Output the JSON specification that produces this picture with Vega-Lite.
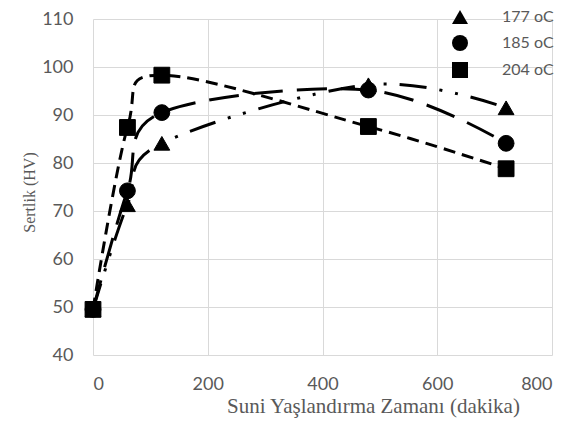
{
  "$schema": "https://vega.github.io/schema/vega-lite/v6.json",
  "width": 459,
  "height": 336,
  "autosize": "none",
  "padding": {"left": 93, "top": 19, "right": 33, "bottom": 66},
  "background": "white",
  "data": {
    "values": [
      {"t": 0, "hv": 49.5, "series": "177 oC"},
      {"t": 60, "hv": 71.3, "series": "177 oC"},
      {"t": 120, "hv": 84.1, "series": "177 oC"},
      {"t": 480, "hv": 96.3, "series": "177 oC"},
      {"t": 720, "hv": 91.5, "series": "177 oC"},
      {"t": 0, "hv": 49.5, "series": "185 oC"},
      {"t": 60, "hv": 74.2, "series": "185 oC"},
      {"t": 120, "hv": 90.5, "series": "185 oC"},
      {"t": 480, "hv": 95.2, "series": "185 oC"},
      {"t": 720, "hv": 84.1, "series": "185 oC"},
      {"t": 0, "hv": 49.5, "series": "204 oC"},
      {"t": 60, "hv": 87.4, "series": "204 oC"},
      {"t": 120, "hv": 98.3, "series": "204 oC"},
      {"t": 480, "hv": 87.6, "series": "204 oC"},
      {"t": 720, "hv": 78.8, "series": "204 oC"}
    ]
  },
  "config": {
    "view": {"stroke": null},
    "axis": {
      "grid": true,
      "gridColor": "#d9d9d9",
      "gridWidth": 1,
      "domain": false,
      "ticks": false,
      "labelFont": "Lato",
      "labelFontSize": 18,
      "labelColor": "#595959",
      "titleFont": "Liberation Serif",
      "titleFontWeight": "normal",
      "titleColor": "#595959"
    }
  },
  "encoding": {
    "x": {
      "field": "t",
      "type": "quantitative",
      "scale": {"domain": [0, 800], "nice": false},
      "axis": {
        "values": [0, 200, 400, 600, 800],
        "labelPadding": 20,
        "title": "Suni Yaşlandırma Zamanı (dakika)",
        "titleFontSize": 21,
        "titleX": 280,
        "titleY": 57,
        "titleAlign": "center",
        "titleBaseline": "alphabetic"
      }
    },
    "y": {
      "field": "hv",
      "type": "quantitative",
      "scale": {"domain": [40, 110], "zero": false, "nice": false},
      "axis": {
        "values": [40, 50, 60, 70, 80, 90, 100, 110],
        "labelPadding": 20,
        "title": "Sertlik (HV)",
        "titleFontSize": 16,
        "titleAngle": -90,
        "titleX": -59,
        "titleY": 173,
        "titleAlign": "center",
        "titleBaseline": "alphabetic"
      }
    }
  },
  "layer": [
    {
      "mark": {"type": "line", "interpolate": "cardinal", "strokeWidth": 3, "color": "black"},
      "encoding": {
        "strokeDash": {
          "field": "series",
          "type": "nominal",
          "scale": {"domain": ["177 oC", "185 oC", "204 oC"], "range": [[27, 13, 3, 13, 3, 13], [30, 14], [12, 7]]},
          "legend": null
        }
      }
    },
    {
      "mark": {"type": "point", "filled": true, "color": "black", "opacity": 1, "stroke": "black", "strokeWidth": 1, "size": 250},
      "encoding": {
        "shape": {
          "field": "series",
          "type": "nominal",
          "scale": {"range": ["triangle-up", "circle", "square"]},
          "legend": {
            "title": null,
            "orient": "none",
            "legendX": 358,
            "legendY": -11,
            "labelFont": "Lato",
            "labelFontSize": 16,
            "labelColor": "#595959",
            "labelOffset": 33,
            "rowPadding": 5,
            "symbolSize": 256,
            "symbolFillColor": "black",
            "symbolStrokeColor": "black"
          }
        }
      }
    }
  ]
}
